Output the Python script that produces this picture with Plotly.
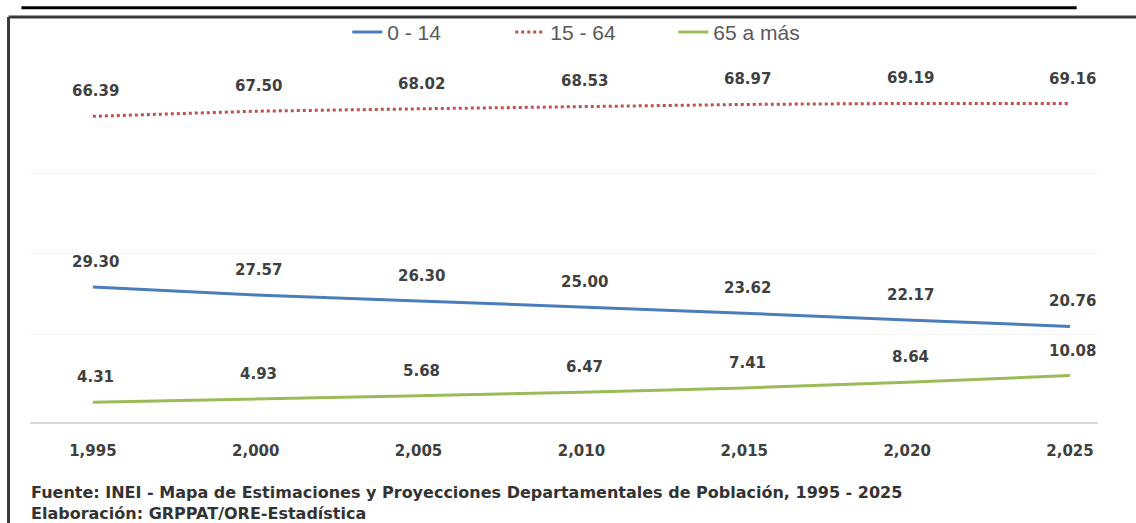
import plotly.graph_objects as go

# --- Data ---
years = [1995, 2000, 2005, 2010, 2015, 2020, 2025]
year_labels = ["1,995", "2,000", "2,005", "2,010", "2,015", "2,020", "2,025"]
g_0_14 = [29.30, 27.57, 26.30, 25.00, 23.62, 22.17, 20.76]
g_15_64 = [66.39, 67.50, 68.02, 68.53, 68.97, 69.19, 69.16]
g_65 = [4.31, 4.93, 5.68, 6.47, 7.41, 8.64, 10.08]

BLUE = "#4a7ebb"
RED = "#c0504d"
GREEN = "#9bbb59"
TXT = "#404040"

fig = go.Figure()
fig.add_trace(go.Scatter(x=years, y=g_0_14, name="0 - 14", mode="lines",
                         line=dict(color=BLUE, width=3)))
fig.add_trace(go.Scatter(x=years, y=g_15_64, name="15 - 64", mode="lines",
                         line=dict(color=RED, width=3, dash="dot")))
fig.add_trace(go.Scatter(x=years, y=g_65, name="65 a más", mode="lines",
                         line=dict(color=GREEN, width=3)))

# data labels above each point
for series in (g_0_14, g_15_64, g_65):
    for x, v in zip(years, series):
        fig.add_annotation(x=x, y=v, text=f"{v:.2f}", showarrow=False,
                           yshift=25, xshift=3,
                           font=dict(family="DejaVu Sans", size=15, color=TXT,
                                     weight="bold"))

# frame, cropped title underline, footnote
fig.add_shape(type="line", xref="paper", yref="paper", x0=-0.0201, x1=1.1,
              y0=1.0, y1=1.0, line=dict(color="#3a3a3a", width=3))
fig.add_shape(type="line", xref="paper", yref="paper", x0=-0.0201, x1=-0.0201,
              y0=1.0, y1=-0.3, line=dict(color="#3a3a3a", width=3))
fig.add_shape(type="line", xref="paper", yref="paper", x0=-0.008, x1=0.98,
              y0=1.023, y1=1.023, line=dict(color="black", width=3))

fig.add_annotation(xref="paper", yref="paper", x=-0.001, y=-0.254,
                   xanchor="left", yanchor="bottom", showarrow=False, align="left",
                   text="Fuente: INEI - Mapa de Estimaciones y Proyecciones "
                        "Departamentales de Población, 1995 - 2025<br>"
                        "Elaboración: GRPPAT/ORE-Estadística",
                   font=dict(family="DejaVu Sans", size=16, color="#333333",
                             weight="bold"))

fig.update_layout(
    width=1136, height=523,
    paper_bgcolor="white", plot_bgcolor="white",
    margin=dict(l=30, r=38, t=13, b=101),
    showlegend=True,
    legend=dict(orientation="h", x=0.526, xanchor="center", y=0.962, yanchor="middle",
                font=dict(family="Liberation Sans", size=21, color="#595959"),
                entrywidth=118, bgcolor="rgba(0,0,0,0)"),
    xaxis=dict(range=[1993.07, 2025.86], tickvals=years, ticktext=year_labels,
               showgrid=False, zeroline=False, showline=True,
               linecolor="#d9d9d9", linewidth=2, ticks="", ticklabelstandoff=14,
               tickfont=dict(family="DejaVu Sans", size=15, color=TXT, weight="bold")),
    yaxis=dict(range=[0, 87.96], tickvals=[19, 36.5, 54], showticklabels=False,
               gridcolor="#f4f4f4", zeroline=False, showline=False),
)

fig.write_html("out.html", config={"displayModeBar": False},
               post_script="document.body.style.margin='0';")
